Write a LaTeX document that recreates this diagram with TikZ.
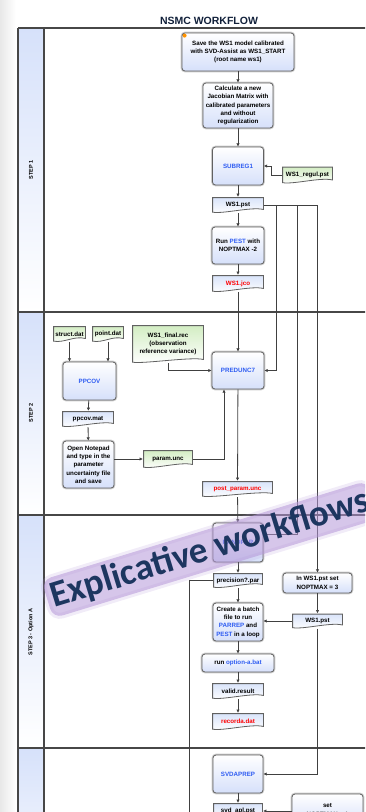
\documentclass[tikz,border=0pt]{standalone}
\usepackage{fontspec}
\setmainfont{Liberation Sans}
\newfontfamily\markfont{Carlito}
\usepackage{tikz}
\usetikzlibrary{arrows.meta}

\definecolor{navyink}{HTML}{1D3660}
\definecolor{procblue}{HTML}{D6E0FA}
\definecolor{docblue}{HTML}{D8E3FA}
\definecolor{docgreen}{HTML}{D2EDC2}
\definecolor{laneblue}{HTML}{D6E1FA}
\definecolor{progblue}{HTML}{2E5CF2}
\definecolor{glowpurple}{HTML}{B497D8}

\newcommand*{\boxfont}{\fontsize{6.2}{8.3}\selectfont\bfseries}

\begin{document}
\begin{tikzpicture}[x=1pt,y=-1pt,
    lanerule/.style={draw=black!72, line width=1.2pt},
    lanelab/.style={rotate=90, font=\fontsize{5.5}{6}\selectfont\bfseries, inner sep=0pt},
    proc/.style={rectangle, rounded corners=3pt, draw=black!62, line width=0.8pt,
        preaction={draw=black!20, line width=2.6pt},
        top color=white, bottom color=procblue, align=center, inner sep=1pt, font=\boxfont},
    docu/.style={rectangle, inner sep=1pt, align=center, font=\boxfont,
        path picture={
          \path[draw=black!62, line width=0.8pt, top color=#1, bottom color=white]
            ([xshift=0.6pt,yshift=-0.6pt]path picture bounding box.north west)
            -- ([xshift=-0.6pt,yshift=-0.6pt]path picture bounding box.north east)
            -- ([xshift=-0.6pt,yshift=3.5pt]path picture bounding box.south east)
            .. controls ([xshift=-12pt,yshift=6.5pt]path picture bounding box.south east)
               and ([xshift=12pt,yshift=-1pt]path picture bounding box.south west)
            .. ([xshift=0.6pt,yshift=0.8pt]path picture bounding box.south west) -- cycle;
        }},
    docu/.default=docblue,
    wire/.style={draw=black!75, line width=0.8pt},
    wirearr/.style={wire, -{Latex[length=3.2pt,width=3.4pt]}}]

\useasboundingbox (0,0) rectangle (365,812);
\clip (0,0) rectangle (365,812);

%#####################################################
% swimlanes
\shade[left color=black!9, right color=white] (0,0) rectangle (16,812);
\node[font=\fontsize{10.5}{12}\selectfont\bfseries, text=navyink!60!black] (title) at (209,21) {NSMC WORKFLOW};
\foreach \ya/\yb in {28/312,312/515,515/748,748/900}{
  \shade[top color=laneblue, bottom color=white] (18,\ya) rectangle (44,\yb);
  \draw[lanerule] (18,\ya) -- (370,\ya);
}
\draw[lanerule] (18,28) -- (18,830);
\draw[lanerule] (44,28) -- (44,830);
\node[lanelab] (step1) at (31,170) {STEP 1};
\node[lanelab] (step2) at (31,413) {STEP 2};
\node[lanelab] (step3) at (31,632) {STEP 3 - Option A};

%#####################################################
% step 1
\node[proc, minimum width=112, minimum height=38] (save) at (238,52)
  {Save the WS1 model calibrated\\with SVD-Assist as WS1\_START\\(root name ws1)};
\fill[orange!85!yellow] ([xshift=3pt,yshift=-3pt]save.north west) circle (2pt);
\node[proc, minimum width=70, minimum height=45] (jacob) at (238,105.5)
  {Calculate a new\\Jacobian Matrix with\\calibrated parameters\\and without\\regularization};
\node[proc, minimum width=51, minimum height=38] (subreg) at (238,166) {\textcolor{progblue}{SUBREG1}};
\node[docu=docgreen, minimum width=51, minimum height=17] (regul) at (307.5,175) {WS1\_regul.pst};
\node[docu, minimum width=52, minimum height=16] (pst1) at (238,205) {WS1.pst};
\node[proc, minimum width=52, minimum height=37] (runpest) at (238,245.5)
  {Run \textcolor{progblue}{PEST} with\\NOPTMAX -2};
\node[docu, minimum width=52, minimum height=17, text=red] (jco) at (238,283.5) {WS1.jco};

%#####################################################
% step 2
\node[docu=docgreen, minimum width=33, minimum height=16] (struct) at (69.5,334) {struct.dat};
\node[docu=docgreen, minimum width=32, minimum height=16] (point) at (108,334) {point.dat};
\node[proc, minimum width=53, minimum height=38] (ppcov) at (89.5,381) {\textcolor{progblue}{PPCOV}};
\node[docu, minimum width=52, minimum height=16] (ppcovmat) at (88,419) {ppcov.mat};
\node[proc, minimum width=51, minimum height=47] (notepad) at (88.5,464.5)
  {Open Notepad\\and type in the\\parameter\\uncertainty file\\and save};
\node[docu=docgreen, minimum width=50, minimum height=18] (paramunc) at (168,459) {param.unc};
\node[docu=docgreen, minimum width=72, minimum height=38] (finalrec) at (168,344)
  {WS1\_final.rec\\(observation\\reference variance)};
\node[proc, minimum width=52, minimum height=37] (preduc) at (238,370.5) {\textcolor{progblue}{PREDUNC7}};
\node[docu, minimum width=71, minimum height=16, text=red] (postunc) at (237.5,489) {post\_param.unc};

%#####################################################
% step 3 - option A
\node[proc, minimum width=50, minimum height=39] (randpar) at (238,542.5) {\textcolor{progblue}{RANDPAR}};
\node[docu, minimum width=50, minimum height=15] (randpars) at (238,580.5) {precision?.par};
\node[proc, minimum width=50, minimum height=38] (batch) at (238,622)
  {Create a batch\\file to run\\\textcolor{progblue}{PARREP} and\\\textcolor{progblue}{PEST} in a loop};
\node[proc, minimum width=69, minimum height=20] (noptmax) at (317.5,583) {In WS1.pst set\\NOPTMAX = 3};
\node[docu, minimum width=51, minimum height=15] (pst2) at (317.5,621) {WS1.pst};
\node[proc, minimum width=72, minimum height=18] (runbat) at (238,663) {run \textcolor{progblue}{option-a.bat}};
\node[docu, minimum width=52, minimum height=16] (result) at (238,691) {valid.result};
\node[docu, minimum width=52, minimum height=17, text=red] (recorda) at (238,721.5) {recorda.dat};

%#####################################################
% next step
\node[proc, minimum width=50, minimum height=38] (svdaprep) at (238,774) {\textcolor{progblue}{SVDAPREP}};
\node[docu, minimum width=50, minimum height=16] (svdpst) at (238,811) {svd\_apl.pst};
\node[proc, minimum width=71, minimum height=32] (setbox) at (327.5,810) {set\\NOPTMAX = 1};

%#####################################################
% connectors
\draw[wirearr] (save) -- (jacob);
\draw[wirearr] (jacob) -- (subreg);
\draw[wirearr] (regul.west) -- ++(-10,0) |- (subreg.east);
\draw[wirearr] (subreg) -- (pst1);
\draw[wirearr] (pst1) -- (runpest);
\draw[wirearr] (runpest) -- (jco);
\draw[wirearr] (jco) -- (preduc);
\coordinate (tapa) at (276,205);
\coordinate (tapb) at (297,205);
\coordinate (tapc) at (noptmax.north |- pst1.east);
\draw[wire] (pst1.east) -- (tapc);
\draw[wirearr] (tapa) |- (preduc.east);
\draw[wirearr] (tapb) |- ([yshift=8pt]randpar.east);
\draw[wirearr] (tapc) -- (noptmax.north);
\draw[wirearr] (struct.south) -- (struct.south |- ppcov.north);
\draw[wirearr] (point.south) -- (point.south |- ppcov.north);
\draw[wirearr] (ppcov) -- (ppcovmat);
\draw[wirearr] (ppcovmat) -- (notepad);
\draw[wirearr] (notepad.east |- paramunc.west) -- (paramunc.west);
\draw[wirearr] (paramunc.east) -| ([xshift=-14pt]preduc.south);
\draw[wirearr] (finalrec.south) |- (preduc.west);
\draw[wirearr] (preduc) -- (postunc);
\draw[wirearr] (postunc) -- (randpar);
\draw[wirearr] (randpar) -- (randpars);
\coordinate (loopdown) at (189,830);
\draw[wire] (randpars.west) -| (loopdown);
\draw[wirearr] (randpars) -- (batch);
\draw[wirearr] (noptmax) -- (pst2);
\draw[wirearr] (pst2.west) -- (batch.east |- pst2.west);
\draw[wirearr] (pst2.south) |- (svdaprep.east);
\draw[wirearr] (batch) -- (runbat);
\draw[wirearr] (runbat) -- (result);
\draw[wirearr] (result) -- (recorda);
\draw[wirearr] (svdaprep) -- (svdpst);
\draw[wirearr] (setbox.west |- svdpst.east) -- (svdpst.east);

%#####################################################
% watermark
\node[rotate=17, anchor=base west, inner sep=4pt, rounded corners=10pt,
      fill=glowpurple, fill opacity=0.55, text opacity=1, text=navyink,
      preaction={draw=glowpurple, draw opacity=0.18, line width=6pt},
      font=\markfont\bfseries\fontsize{37}{37}\selectfont] (mark) at (50,609) {Explicative workflows};
\end{tikzpicture}
\end{document}
